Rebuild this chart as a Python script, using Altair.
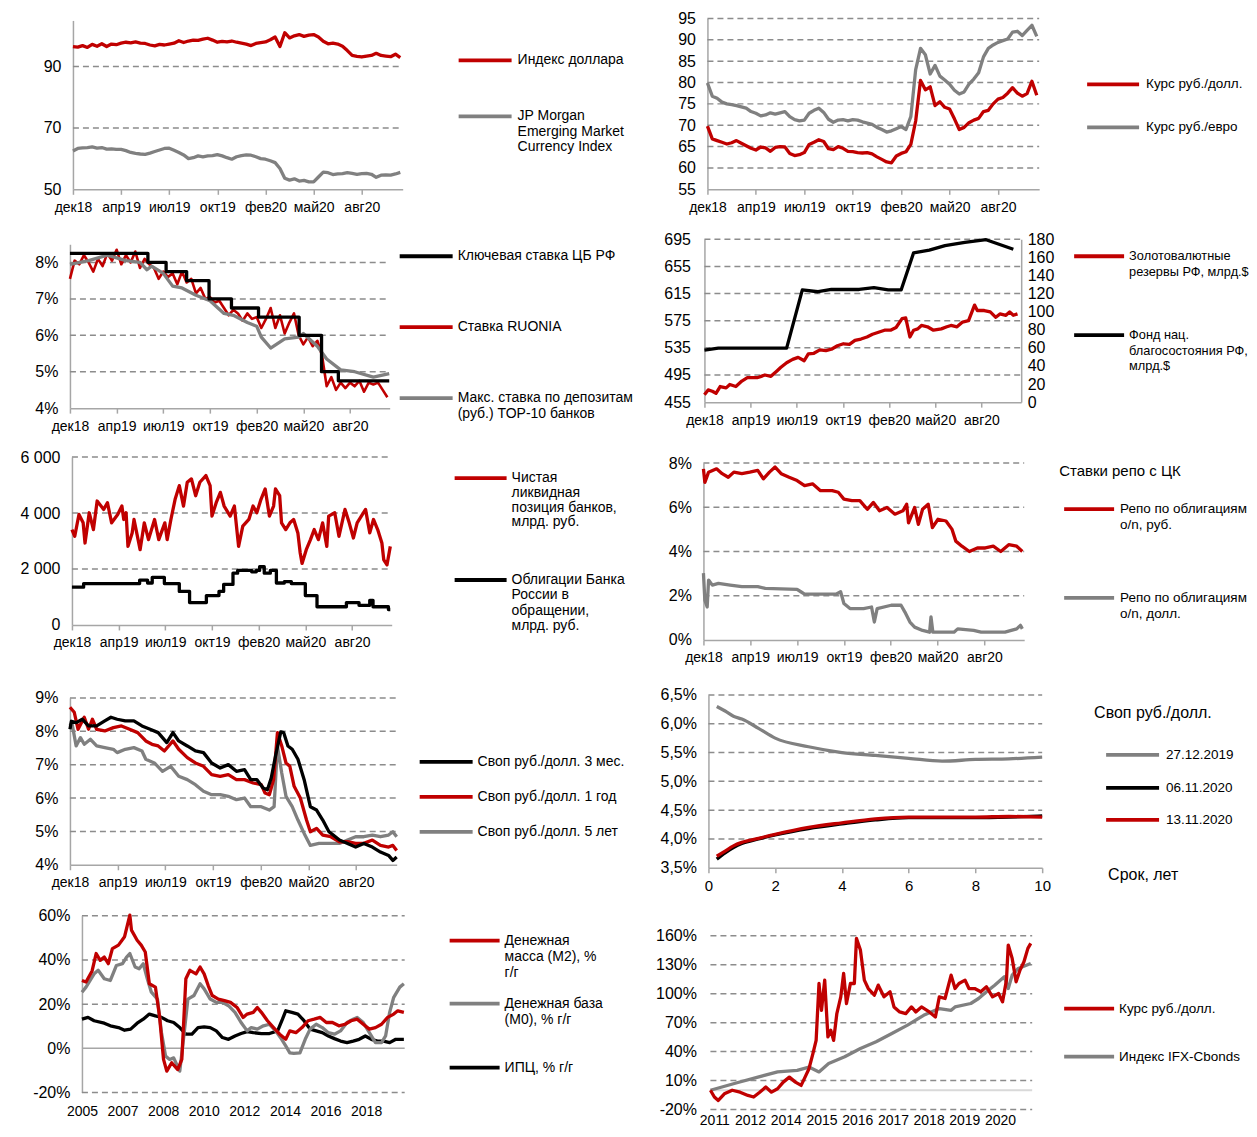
import altair as alt
import pandas as pd

FONT = "Liberation Sans"
RED = "#C00000"
GRAY = "#808080"
BLACK = "#000000"
GRIDC = "#8c8c8c"
AXISC = "#a6a6a6"
LW = 3.3
ONE = alt.Data(values=[{"k": 1}])

# ---------------- data ----------------
MONTHS = ["дек18", "апр19", "июл19", "окт19", "фев20", "май20", "авг20"]
YEARS9 = ["2005", "2007", "2008", "2010", "2012", "2014", "2016", "2018"]
YEARS10 = ["2011", "2012", "2014", "2015", "2016", "2017", "2018", "2019", "2020"]

T69 = [round(i * 0.1, 1) for i in range(69)]

dxy_vals = [96.5, 96.3, 96.8, 96.2, 97.2, 96.6, 97.4, 96.5, 97.3, 97.1,
            97.6, 97.9, 97.7, 98.0, 97.6, 97.5, 97.0, 96.7, 97.2, 97.0,
            97.3, 97.6, 98.4, 97.8, 98.3, 98.6, 98.5, 98.9, 99.2, 98.6,
            97.9, 98.2, 98.0, 98.3, 97.9, 97.6, 97.3, 96.8, 97.5, 97.8,
            98.0, 98.7, 99.6, 96.5, 101.0, 99.3, 100.0, 100.4, 99.8, 100.2,
            100.4, 99.6, 98.2, 97.4, 97.6, 97.3, 96.6, 95.2, 93.6, 93.3,
            93.1, 93.4, 93.6, 94.3, 93.6, 93.4, 93.2, 94.0, 92.9]
jpm_vals = [62.5, 63.3, 63.5, 63.6, 63.8, 63.4, 63.6, 63.1, 63.2, 63.0,
            63.0, 62.6, 62.0, 61.7, 61.5, 61.4, 61.8, 62.3, 62.8, 63.3,
            63.4, 62.7, 62.0, 61.2, 60.0, 60.3, 60.9, 60.6, 60.9, 61.0,
            61.3, 60.9, 60.3, 59.8, 60.6, 61.0, 61.2, 61.1, 60.6, 60.0,
            59.8, 59.3, 58.7, 56.8, 53.6, 53.0, 53.4, 52.7, 52.9, 52.4,
            52.4, 54.0, 55.6, 55.4, 54.8, 55.0, 55.1, 55.4, 55.2, 54.9,
            55.1, 55.2, 54.9, 53.9, 54.6, 54.7, 54.6, 55.0, 55.5]

usd_vals = [69.8, 66.8, 66.4, 66.0, 65.6, 65.9, 66.4, 65.8, 65.2, 64.6,
            64.2, 64.9, 64.7, 63.9, 64.8, 65.0, 64.9, 63.4, 62.9, 63.1,
            63.6, 65.5, 66.0, 66.6, 66.2, 64.5, 64.3, 65.0, 64.6, 63.9,
            63.8, 63.6, 63.5, 63.6, 63.3, 62.6, 62.0, 61.4, 61.2, 62.8,
            63.4, 63.8, 65.5, 71.0, 80.5, 78.3, 79.0, 74.6, 75.5, 74.2,
            73.8, 71.5, 69.0, 69.5, 70.6, 71.2, 71.6, 73.2, 73.5, 75.0,
            76.1, 76.5, 77.5, 78.8, 77.5, 76.8, 77.4, 80.3, 77.0]
eur_vals = [79.9, 76.8, 76.3, 75.4, 75.0, 74.8, 74.6, 74.3, 74.0, 73.2,
            72.8, 72.2, 72.4, 72.9, 72.6, 72.9, 73.2, 72.0, 71.3, 71.0,
            71.2, 72.8, 73.5, 74.0, 73.0, 71.4, 70.7, 71.2, 71.3, 71.0,
            71.3, 71.2, 70.8, 70.5, 70.2, 69.5, 69.0, 68.4, 68.7, 69.2,
            69.7, 69.0, 72.0, 83.0, 88.0, 86.5, 82.0, 84.0, 81.5, 80.6,
            79.6, 78.2, 77.3, 77.8, 79.6, 80.8, 82.3, 86.0, 88.0, 88.8,
            89.4, 89.8, 90.2, 91.8, 92.0, 91.0, 92.2, 93.4, 90.8]

ruonia_vals = [7.55, 8.05, 7.95, 8.2, 8.0, 7.75, 8.1, 7.9, 8.25, 8.05,
               8.35, 7.95, 8.2, 8.0, 8.3, 7.85, 8.1, 7.95, 7.85, 7.55,
               7.75, 7.6, 7.7, 7.4, 7.75, 7.45, 7.55, 7.15, 7.3, 7.0,
               7.05, 6.9, 6.95, 6.75, 6.55, 6.7, 6.6, 6.4, 6.6, 6.45,
               6.5, 6.2, 6.45, 6.75, 6.2, 6.55, 6.05, 6.35, 6.6, 6.0,
               5.75, 5.95, 5.7, 5.85, 5.45, 4.6, 4.85, 4.5, 4.7, 4.55,
               4.7, 4.6, 4.75, 4.45, 4.7, 4.65, 4.7, 4.5, 4.3]
key_x = [0, 1.67, 2.06, 2.50, 2.98, 3.46, 4.04, 4.91, 5.39, 5.75, 6.84]
key_vals = [8.25, 8.0, 7.75, 7.5, 7.0, 6.75, 6.5, 6.0, 5.0, 4.75, 4.75]
dep_x = [0, 0.4, 0.8, 1.2, 1.5, 1.65, 1.75, 2.0, 2.2, 2.4, 2.7, 3.0, 3.3, 3.5,
         3.8, 4.0, 4.1, 4.3, 4.6, 4.9, 5.0, 5.3, 5.5, 5.8, 6.1, 6.5, 6.84]
dep_vals = [7.95, 8.05, 8.2, 8.05, 8.0, 7.8, 7.9, 7.7, 7.35, 7.3, 7.1, 6.95, 6.6, 6.55,
            6.35, 6.25, 5.95, 5.65, 5.9, 5.95, 6.05, 5.7, 5.35, 5.05, 5.0, 4.85, 4.95]

res_x = [0.00, 0.08, 0.17, 0.25, 0.34, 0.47, 0.55, 0.68, 0.81, 0.93,
         1.14, 1.23, 1.31, 1.44, 1.57, 1.65, 1.78, 1.91, 2.03, 2.16,
         2.25, 2.37, 2.50, 2.63, 2.75, 2.88, 3.01, 3.14, 3.26, 3.39,
         3.52, 3.64, 3.77, 3.90, 4.03, 4.15, 4.28, 4.36, 4.45, 4.53,
         4.62, 4.70, 4.83, 4.96, 5.13, 5.25, 5.34, 5.47, 5.59, 5.72,
         5.85, 5.91, 6.06, 6.19, 6.31, 6.40, 6.53, 6.61, 6.69, 6.78]
res_vals = [466, 473, 471, 468, 478, 476, 481, 478, 486, 491,
            491, 493, 495, 493, 501, 506, 513, 518, 521, 516,
            526, 527, 532, 531, 533, 538, 541, 540, 546, 548,
            551, 555, 558, 561, 561, 565, 578, 579, 551, 561,
            563, 568, 566, 561, 563, 566, 568, 566, 573, 575,
            598, 590, 590, 588, 580, 585, 583, 588, 583, 585]
nwf_x = [0.00, 0.30, 1.78, 2.12, 2.46, 2.75, 3.35, 3.67, 3.98, 4.26, 4.53, 4.87, 5.21, 5.64, 6.10, 6.69]
nwf_vals = [57.5, 59.7, 59.7, 124.0, 122.0, 124.5, 124.5, 126.5, 124.0, 124.0, 165.0, 168.0, 173.0, 176.5, 179.5, 169.0]

liq_x = [0.00, 0.06, 0.15, 0.24, 0.28, 0.37, 0.46, 0.54, 0.68, 0.76,
         0.85, 0.98, 1.07, 1.11, 1.16, 1.20, 1.29, 1.33, 1.46, 1.55,
         1.64, 1.77, 1.86, 1.99, 2.04, 2.12, 2.21, 2.30, 2.39, 2.47,
         2.56, 2.65, 2.74, 2.87, 2.96, 3.00, 3.09, 3.18, 3.26, 3.39,
         3.48, 3.57, 3.66, 3.79, 3.88, 3.96, 4.05, 4.14, 4.23, 4.32,
         4.36, 4.45, 4.49, 4.58, 4.67, 4.75, 4.84, 4.89, 4.93, 5.02,
         5.11, 5.19, 5.28, 5.37, 5.46, 5.50, 5.63, 5.72, 5.85, 5.94,
         6.03, 6.11, 6.20, 6.29, 6.38, 6.46, 6.55, 6.64, 6.68, 6.75, 6.82]
liq_vals = [3410, 3170, 3950, 3650, 2930, 4010, 3410, 4430, 4130, 4370,
            3650, 3950, 4250, 3770, 4010, 2810, 3290, 3770, 2690, 3650,
            3050, 3770, 3050, 3650, 3050, 3770, 4490, 4980, 4250, 5100,
            5220, 4620, 5100, 5340, 4980, 3890, 4370, 4740, 4250, 3890,
            4250, 2810, 3530, 3770, 4250, 4010, 4490, 4860, 3890, 4250,
            4860, 4620, 3650, 3410, 3650, 3770, 3290, 2570, 2200, 2690,
            3050, 3410, 3050, 3650, 2810, 3890, 4010, 3170, 4130, 3650,
            3110, 3650, 3890, 4130, 3290, 3770, 3410, 2930, 2330, 2150, 2810]
obr_x = [0, 0.25, 1.45, 1.62, 1.72, 1.98, 2.30, 2.52, 2.88, 3.15,
         3.25, 3.45, 3.55, 3.85, 3.95, 4.02, 4.12, 4.25, 4.38, 4.55,
         4.70, 5.00, 5.25, 5.88, 6.15, 6.38, 6.45, 6.78, 6.82]
obr_vals = [1350, 1480, 1600, 1500, 1700, 1480, 1200, 800, 1050, 1200,
            1450, 1850, 1950, 1900, 1950, 2080, 1850, 1950, 1500, 1550,
            1480, 1050, 650, 800, 700, 880, 650, 550, 550]

rr_x = [0.00, 0.03, 0.11, 0.28, 0.40, 0.53, 0.65, 0.82, 0.99, 1.16,
        1.28, 1.41, 1.53, 1.66, 1.83, 2.00, 2.16, 2.33, 2.50, 2.75,
        2.88, 3.00, 3.17, 3.34, 3.50, 3.63, 3.76, 3.92, 4.09, 4.26,
        4.34, 4.38, 4.51, 4.59, 4.68, 4.80, 4.89, 5.01, 5.18, 5.31,
        5.39, 5.52, 5.68, 5.85, 6.02, 6.19, 6.35, 6.52, 6.69, 6.81]
rr_vals = [7.74, 7.13, 7.59, 7.74, 7.52, 7.36, 7.59, 7.52, 7.59, 7.67,
           7.29, 7.59, 7.82, 7.52, 7.36, 7.21, 6.98, 7.06, 6.75, 6.75,
           6.68, 6.37, 6.30, 6.30, 5.91, 6.22, 5.84, 5.99, 5.69, 5.84,
           6.14, 5.30, 5.99, 5.23, 5.91, 6.14, 5.08, 5.46, 5.38, 5.00,
           4.47, 4.24, 4.00, 4.16, 4.16, 4.24, 4.00, 4.31, 4.24, 4.00]
ru_x = [0.00, 0.03, 0.08, 0.11, 0.19, 0.32, 0.57, 0.82, 1.16, 1.32,
        2.00, 2.08, 2.16, 2.83, 2.93, 3.00, 3.13, 3.42, 3.59, 3.65,
        3.71, 4.01, 4.22, 4.30, 4.41, 4.51, 4.68, 4.83, 4.86, 4.90,
        5.35, 5.43, 5.77, 5.93, 6.44, 6.69, 6.77, 6.81]
ru_vals = [3.02, 1.80, 1.49, 2.71, 2.48, 2.56, 2.48, 2.41, 2.41, 2.33,
           2.29, 2.18, 2.07, 2.07, 2.18, 1.65, 1.42, 1.42, 1.49, 0.81,
           1.42, 1.57, 1.57, 1.27, 0.81, 0.58, 0.43, 0.35, 1.04, 0.35,
           0.35, 0.50, 0.43, 0.35, 0.35, 0.50, 0.66, 0.50]

sw3_x = [0.00, 0.03, 0.13, 0.26, 0.39, 0.56, 0.73, 0.86, 0.99, 1.16,
         1.34, 1.51, 1.68, 1.85, 2.03, 2.16, 2.28, 2.46, 2.63, 2.80,
         2.97, 3.15, 3.32, 3.49, 3.66, 3.79, 3.92, 4.05, 4.14, 4.22,
         4.31, 4.42, 4.48, 4.57, 4.66, 4.78, 4.91, 5.04, 5.17, 5.30,
         5.43, 5.52, 5.65, 5.82, 5.99, 6.16, 6.34, 6.51, 6.68, 6.77, 6.85]
sw3_vals = [8.06, 8.30, 8.26, 8.36, 8.16, 8.16, 8.31, 8.42, 8.36, 8.31,
            8.31, 8.16, 8.06, 7.96, 7.66, 7.96, 7.71, 7.56, 7.41, 7.36,
            7.05, 6.90, 7.00, 6.80, 6.85, 6.55, 6.55, 6.30, 6.25, 6.60,
            7.26, 7.98, 7.96, 7.56, 7.46, 7.16, 6.55, 5.74, 5.64, 5.34,
            4.99, 4.89, 4.74, 4.64, 4.53, 4.64, 4.53, 4.38, 4.28, 4.13, 4.23]
sw1_x = [0.00, 0.09, 0.17, 0.30, 0.39, 0.47, 0.56, 0.73, 0.91, 1.08,
         1.25, 1.42, 1.59, 1.72, 1.85, 1.98, 2.16, 2.28, 2.46, 2.63,
         2.80, 2.97, 3.15, 3.32, 3.49, 3.66, 3.84, 4.01, 4.09, 4.18,
         4.27, 4.35, 4.44, 4.53, 4.61, 4.70, 4.83, 4.96, 5.04, 5.17,
         5.30, 5.47, 5.65, 5.82, 5.99, 6.16, 6.34, 6.51, 6.68, 6.77, 6.85]
sw1_vals = [8.72, 8.57, 8.06, 8.42, 8.06, 8.36, 8.06, 8.01, 8.11, 8.16,
            8.06, 7.96, 7.71, 7.61, 7.56, 7.41, 7.71, 7.46, 7.21, 7.05,
            6.95, 6.70, 6.65, 6.70, 6.55, 6.55, 6.45, 6.40, 6.15, 6.10,
            6.55, 7.96, 7.56, 7.05, 6.95, 6.35, 6.00, 5.34, 4.99, 5.09,
            4.89, 4.84, 4.69, 4.69, 4.64, 4.64, 4.74, 4.58, 4.53, 4.58, 4.43]
sw5_x = [0.00, 0.04, 0.13, 0.22, 0.30, 0.43, 0.56, 0.73, 0.91, 0.99,
         1.16, 1.34, 1.51, 1.59, 1.77, 1.94, 2.11, 2.28, 2.46, 2.63,
         2.80, 2.97, 3.15, 3.32, 3.49, 3.66, 3.79, 4.01, 4.18, 4.28,
         4.35, 4.44, 4.53, 4.66, 4.78, 4.91, 5.04, 5.22, 5.39, 5.65,
         5.82, 5.99, 6.16, 6.34, 6.51, 6.68, 6.77, 6.85]
sw5_vals = [8.16, 8.26, 7.56, 7.81, 7.61, 7.76, 7.56, 7.51, 7.46, 7.36,
            7.46, 7.51, 7.41, 7.16, 7.05, 6.80, 6.95, 6.65, 6.55, 6.40,
            6.20, 6.10, 6.10, 6.05, 5.95, 6.00, 5.74, 5.74, 5.64, 5.74,
            7.56, 6.75, 6.05, 5.74, 5.34, 4.94, 4.58, 4.64, 4.64, 4.64,
            4.74, 4.84, 4.84, 4.89, 4.84, 4.89, 4.99, 4.84]

term = [0.25, 0.5, 0.75, 1, 1.5, 2, 3, 4, 5, 6, 7, 8, 9, 10]
curve_2019 = [6.30, 6.22, 6.13, 6.08, 5.92, 5.75, 5.60, 5.50, 5.45, 5.40, 5.35, 5.38, 5.39, 5.42]
curve_0611 = [3.65, 3.76, 3.85, 3.92, 4.00, 4.07, 4.18, 4.26, 4.33, 4.37, 4.37, 4.37, 4.38, 4.40]
curve_1311 = [3.70, 3.79, 3.88, 3.94, 4.01, 4.08, 4.20, 4.28, 4.35, 4.38, 4.38, 4.38, 4.39, 4.38]

m2_x = [0.00, 0.10, 0.25, 0.35, 0.45, 0.55, 0.65, 0.75, 0.90, 1.05,
        1.18, 1.22, 1.36, 1.46, 1.56, 1.66, 1.81, 1.91, 2.01, 2.09,
        2.21, 2.36, 2.46, 2.56, 2.66, 2.81, 2.91, 3.01, 3.11, 3.21,
        3.36, 3.51, 3.66, 3.82, 3.97, 4.07, 4.22, 4.32, 4.42, 4.57,
        4.72, 4.87, 5.02, 5.12, 5.27, 5.42, 5.57, 5.72, 5.87, 6.02,
        6.17, 6.33, 6.48, 6.63, 6.78, 6.93, 7.08, 7.23, 7.38, 7.53,
        7.68, 7.78, 7.93]
m2_vals = [30.7, 30.0, 35.0, 42.9, 39.8, 41.3, 38.3, 45.1, 46.7, 50.5,
           60.3, 53.5, 48.9, 46.7, 43.6, 29.2, 27.7, 14.7, -5.0, -10.3,
           -6.5, -9.6, -5.0, 31.5, 35.3, 33.7, 36.8, 33.7, 28.4, 23.9,
           22.3, 21.6, 20.8, 18.5, 14.0, 15.5, 16.3, 18.5, 16.3, 12.5,
           9.4, 6.4, 4.1, 7.9, 7.1, 9.4, 12.5, 13.2, 14.0, 11.7,
           11.7, 10.2, 10.9, 12.5, 13.2, 10.9, 8.7, 9.4, 10.9, 14.0,
           15.5, 17.0, 16.3]
m0_x = [0.00, 0.10, 0.30, 0.40, 0.55, 0.70, 0.85, 1.00, 1.10, 1.18,
        1.31, 1.41, 1.51, 1.61, 1.71, 1.86, 1.96, 2.06, 2.16, 2.26,
        2.41, 2.51, 2.61, 2.76, 2.91, 3.01, 3.16, 3.31, 3.46, 3.61,
        3.77, 3.92, 4.07, 4.17, 4.32, 4.47, 4.62, 4.77, 4.92, 5.02,
        5.12, 5.22, 5.37, 5.50, 5.62, 5.77, 5.92, 6.07, 6.22, 6.37,
        6.53, 6.68, 6.78, 6.93, 7.08, 7.23, 7.38, 7.48, 7.58, 7.68,
        7.83, 7.93]
m0_vals = [25.4, 27.7, 33.7, 35.3, 31.5, 30.7, 37.5, 38.3, 41.3, 42.9,
           36.8, 36.0, 38.3, 31.5, 25.4, 22.3, 7.1, -3.5, -5.0, -4.3,
           -10.3, 5.6, 22.3, 23.9, 29.2, 26.9, 22.3, 20.8, 20.8, 19.3,
           16.3, 11.7, 7.9, 9.4, 8.7, 10.2, 10.9, 7.9, 4.1, 1.1,
           -2.0, -2.3, -2.0, 4.1, 8.7, 10.9, 9.4, 7.1, 6.4, 7.9,
           11.7, 13.2, 14.0, 11.7, 7.1, 2.6, 2.6, 5.6, 16.3, 23.1,
           27.7, 29.2]
cpi_x = [0.00, 0.15, 0.30, 0.55, 0.70, 0.90, 1.05, 1.20, 1.36, 1.51,
         1.66, 1.81, 1.96, 2.11, 2.26, 2.41, 2.56, 2.71, 2.86, 3.01,
         3.16, 3.31, 3.46, 3.61, 3.77, 3.92, 4.07, 4.22, 4.42, 4.62,
         4.82, 4.94, 5.02, 5.17, 5.32, 5.47, 5.62, 5.77, 5.92, 6.07,
         6.22, 6.37, 6.53, 6.68, 6.83, 6.98, 7.13, 7.28, 7.43, 7.58,
         7.73, 7.93]
cpi_vals = [13.2, 14.0, 12.5, 11.4, 10.2, 9.4, 8.2, 8.7, 11.4, 13.2,
            15.5, 14.7, 14.0, 12.5, 11.7, 9.4, 6.4, 6.4, 9.4, 9.7,
            9.4, 7.9, 4.9, 4.1, 5.6, 6.7, 7.6, 7.1, 6.7, 6.7,
            7.9, 13.2, 17.0, 16.3, 15.5, 12.5, 8.7, 7.9, 7.1, 5.6,
            4.4, 3.3, 2.6, 3.3, 4.1, 5.6, 4.1, 3.3, 3.3, 2.6,
            4.1, 4.1]

cum_x = [-0.11, 0.00, 0.11, 0.28, 0.50, 0.72, 0.94, 1.10, 1.27, 1.44,
         1.60, 1.77, 1.93, 2.10, 2.27, 2.43, 2.54, 2.65, 2.76, 2.85,
         2.93, 3.00, 3.09, 3.18, 3.26, 3.34, 3.43, 3.54, 3.62, 3.70,
         3.81, 3.92, 3.98, 4.09, 4.20, 4.31, 4.48, 4.59, 4.75, 4.92,
         5.03, 5.19, 5.36, 5.52, 5.64, 5.80, 6.02, 6.19, 6.30, 6.46,
         6.63, 6.74, 6.85, 7.02, 7.13, 7.29, 7.46, 7.62, 7.79, 7.96,
         8.07, 8.18, 8.23, 8.34, 8.45, 8.56, 8.67, 8.78, 8.86]
cum_usd = [0, -7.0, -10.6, -3.7, 0, -2.0, -5.4, -7.0, -2.0, 3.3,
           -2.0, 1.5, 8.4, 13.6, 8.4, 5.0, 13.6, 22.3, 37.9, 51.7,
           110.5, 82.8, 114.0, 55.2, 62.1, 51.7, 79.4, 96.7, 120.9, 89.8,
           110.5, 110.5, 157.2, 145.1, 114.0, 105.3, 98.4, 108.8, 96.7, 101.9,
           86.3, 81.1, 79.4, 86.3, 81.1, 86.3, 81.1, 75.9, 96.7, 95.0,
           119.2, 105.3, 110.5, 114.0, 105.3, 105.3, 101.9, 107.1, 96.7, 100.2,
           91.5, 114.0, 150.3, 136.5, 112.3, 124.4, 133.0, 146.9, 152.0]
ifx_x = [-0.11, 0.66, 1.22, 1.77, 2.32, 2.65, 2.93, 3.20, 3.65, 4.09,
         4.53, 4.97, 5.41, 5.86, 6.30, 6.63, 6.74, 7.18, 7.40, 7.62,
         7.85, 8.12, 8.23, 8.34, 8.51, 8.86]
ifx_vals = [0, 8.0, 13.6, 19.0, 20.6, 24.0, 19.0, 27.6, 34.6, 43.3,
            50.2, 58.8, 67.4, 77.6, 84.6, 82.8, 86.3, 89.8, 95.0, 101.9,
            108.8, 117.4, 105.3, 119.2, 126.1, 131.3]

# ---------------- layout helpers ----------------
COLX = [8, 640]
COLW = [632, 609]
ROWY = [8, 228, 438, 672, 898]
ROWH = [220, 210, 234, 226, 231]


def series(xs, ys, color, X, Y, width=LW, interp="linear"):
    df = pd.DataFrame({"x": xs, "y": ys})
    return alt.Chart(df).mark_line(color=color, strokeWidth=width, interpolate=interp,
                                   strokeJoin="round").encode(x=X, y=Y)


class Panel:
    def __init__(self, col, row, x0, x1, y0, y1):
        self.ox, self.oy = COLX[col], ROWY[row]
        self.w, self.h = COLW[col], ROWH[row]
        self.rx0, self.rx1 = x0 - self.ox, x1 - self.ox
        self.ry0, self.ry1 = y0 - self.oy, y1 - self.oy
        self.layers = []

    def xenc(self, dom, values, labels=None, size=14, pad=6, ticks=True, domain=True):
        kw = dict(values=values, grid=False, domain=domain, domainColor=AXISC, domainWidth=1.5,
                  ticks=ticks, tickColor=AXISC, tickWidth=1.5, tickSize=5 if ticks else 0,
                  labelFont=FONT, labelFontSize=size, labelColor="#000000", labelPadding=pad,
                  labelOverlap=False, labelFlush=False, labelBound=False,
                  offset=self.ry1 - self.h, title=None)
        if labels is not None:
            kw["labelExpr"] = "[" + ",".join("'%s'" % s for s in labels) + "][datum.value]"
        return alt.X("x:Q", scale=alt.Scale(domain=dom, range=[self.rx0, self.rx1], nice=False, zero=False),
                     axis=alt.Axis(**kw))

    def yenc(self, dom, values, expr=None, size=16, pad=12, orient="left", domain=True):
        off = -self.rx0 if orient == "left" else self.rx1 - self.w
        kw = dict(values=values, orient=orient, grid=False, domain=domain, domainColor=AXISC,
                  domainWidth=1.5, ticks=False, labelFont=FONT, labelFontSize=size,
                  labelColor="#000000", labelPadding=pad, labelOverlap=False, labelFlush=False,
                  labelBound=False, offset=off, title=None)
        if expr:
            kw["labelExpr"] = expr
        return alt.Y("y:Q", scale=alt.Scale(domain=dom, range=[self.ry1, self.ry0], nice=False, zero=False),
                     axis=alt.Axis(**kw))

    def grid(self, values, Y):
        df = pd.DataFrame({"y": values})
        return alt.Chart(df).mark_rule(color=GRIDC, strokeWidth=1.5, strokeDash=[6, 4]).encode(
            y=Y, x=alt.value(self.rx0), x2=alt.value(self.rx1))

    def text(self, s, x, y, size=14):
        return alt.Chart(ONE).mark_text(align="left", baseline="middle", font=FONT, fontSize=size,
                                        color="#000000").encode(
            x=alt.value(x - self.ox), y=alt.value(y - self.oy), text=alt.value(s))

    def legend(self, color, x1, x2, y, lines, tx, step=15.5, size=14):
        self.layers.append(alt.Chart(ONE).mark_rule(color=color, strokeWidth=3.8).encode(
            x=alt.value(x1 - self.ox), x2=alt.value(x2 - self.ox), y=alt.value(y - self.oy)))
        for i, s in enumerate(lines):
            self.layers.append(self.text(s, tx, y + i * step, size))

    def add(self, *ls):
        self.layers.extend(ls)

    def chart(self):
        return alt.layer(*self.layers).properties(width=self.w, height=self.h)


PCT = "datum.value + '%'"

# Panel 1
p = Panel(0, 0, 73, 403, 20, 189)
X = p.xenc([0, 6.85], list(range(7)), MONTHS)
Y = p.yenc([50, 105], [50, 70, 90])
p.add(p.grid([70, 90], Y), series(T69, jpm_vals, GRAY, X, Y), series(T69, dxy_vals, RED, X, Y))
p.legend(RED, 459, 512, 60, ["Индекс доллара"], 518)
p.legend(GRAY, 459, 512, 116, ["JP Morgan", "Emerging Market", "Currency Index"], 518)
c1 = p.chart()

# Panel 2
p = Panel(1, 0, 708, 1040, 18, 189)
X = p.xenc([0, 6.85], list(range(7)), MONTHS)
Y = p.yenc([55, 95], list(range(55, 96, 5)))
p.add(p.grid(list(range(60, 96, 5)), Y), series(T69, eur_vals, GRAY, X, Y), series(T69, usd_vals, RED, X, Y))
p.legend(RED, 1088, 1140, 84, ["Курс руб./долл."], 1147, size=13.5)
p.legend(GRAY, 1088, 1140, 127, ["Курс руб./евро"], 1147, size=13.5)
c2 = p.chart()

# Panel 3
p = Panel(0, 1, 70, 390, 244, 408)
X = p.xenc([0, 6.85], list(range(7)), MONTHS)
Y = p.yenc([4, 8.5], [4, 5, 6, 7, 8], PCT)
p.add(p.grid([5, 6, 7, 8], Y),
      series(T69, ruonia_vals, RED, X, Y, 2.6),
      series(dep_x, dep_vals, GRAY, X, Y),
      series(key_x, key_vals, BLACK, X, Y, LW, "step-after"))
p.legend(BLACK, 400, 453, 256, ["Ключевая ставка ЦБ РФ"], 458)
p.legend(RED, 400, 453, 327, ["Ставка RUONIA"], 458)
p.legend(GRAY, 400, 453, 398, ["Макс. ставка по депозитам", "(руб.) TOP-10 банков"], 458, step=16)
c3 = p.chart()

# Panel 4 (two y axes)
p = Panel(1, 1, 705, 1022, 239, 402)
X = p.xenc([0, 6.86], list(range(7)), MONTHS)
YL = p.yenc([455, 695], list(range(455, 696, 40)), pad=14)
YR = p.yenc([0, 180], list(range(0, 181, 20)), orient="right", pad=6)
left = alt.layer(p.grid(list(range(495, 696, 40)), YL), series(res_x, res_vals, RED, X, YL))
right = alt.layer(series(nwf_x, nwf_vals, BLACK, X, YR))
p.legend(RED, 1075, 1125, 256, ["Золотовалютные", "резервы РФ, млрд.$"], 1130, size=12.8)
p.legend(BLACK, 1075, 1125, 335, ["Фонд нац.", "благосостояния РФ,", "млрд.$"], 1130, size=12.8)
c4 = alt.layer(left, right, *p.layers).resolve_scale(y="independent").properties(width=p.w, height=p.h)

# Panel 5
p = Panel(0, 2, 72, 392, 457, 625)
X = p.xenc([0, 6.85], list(range(7)), MONTHS)
Y = p.yenc([0, 6000], [0, 2000, 4000, 6000], "replace(format(datum.value, ','), ',', ' ')")
p.add(p.grid([2000, 4000, 6000], Y),
      series(liq_x, liq_vals, RED, X, Y),
      series(obr_x, obr_vals, BLACK, X, Y, LW, "step-after"))
p.legend(RED, 455, 507, 478, ["Чистая", "ликвидная", "позиция банков,", "млрд. руб."], 512, step=14.8)
p.legend(BLACK, 455, 507, 580, ["Облигации Банка", "России в", "обращении,", "млрд. руб."], 512, step=15.3)
c5 = p.chart()

# Panel 6
p = Panel(1, 2, 704, 1025, 463, 640)
X = p.xenc([0, 6.85], list(range(7)), MONTHS)
Y = p.yenc([0, 8], [0, 2, 4, 6, 8], PCT)
p.add(p.grid([2, 4, 6, 8], Y),
      series(ru_x, ru_vals, GRAY, X, Y),
      series(rr_x, rr_vals, RED, X, Y))
p.add(p.text("Ставки  репо с ЦК", 1060, 471, 15))
p.legend(RED, 1065, 1115, 509, ["Репо по облигациям", "o/n, руб."], 1121, size=13.5)
p.legend(GRAY, 1065, 1115, 598, ["Репо по облигациям", "o/n, долл."], 1121, step=16, size=13.5)
c6 = p.chart()

# Panel 7
p = Panel(0, 3, 70, 397, 698, 865)
X = p.xenc([0, 6.85], list(range(7)), MONTHS)
Y = p.yenc([4, 9], [4, 5, 6, 7, 8, 9], PCT)
p.add(p.grid([5, 6, 7, 8, 9], Y),
      series(sw5_x, sw5_vals, GRAY, X, Y),
      series(sw1_x, sw1_vals, RED, X, Y),
      series(sw3_x, sw3_vals, BLACK, X, Y))
p.legend(BLACK, 420, 473, 762, ["Своп руб./долл. 3 мес."], 478)
p.legend(RED, 420, 473, 797, ["Своп руб./долл. 1 год"], 478)
p.legend(GRAY, 420, 473, 832, ["Своп руб./долл. 5 лет"], 478)
c7 = p.chart()

# Panel 8
p = Panel(1, 3, 709, 1043, 695, 868)
X = p.xenc([0, 10], [0, 2, 4, 6, 8, 10], None, size=15)
Y = p.yenc([3.5, 6.5], [3.5, 4.0, 4.5, 5.0, 5.5, 6.0, 6.5],
           "replace(format(datum.value, '.1f'), '.', ',') + '%'")
p.add(p.grid([4.0, 4.5, 5.0, 5.5, 6.0, 6.5], Y),
      series(term, curve_2019, GRAY, X, Y, LW, "monotone"),
      series(term, curve_0611, BLACK, X, Y, LW, "monotone"),
      series(term, curve_1311, RED, X, Y, LW, "monotone"))
p.add(p.text("Своп руб./долл.", 1095, 713, 16))
p.legend(GRAY, 1107, 1160, 755, ["27.12.2019"], 1167, size=13.5)
p.legend(BLACK, 1107, 1160, 788, ["06.11.2020"], 1167, size=13.5)
p.legend(RED, 1107, 1160, 820, ["13.11.2020"], 1167, size=13.5)
p.add(p.text("Срок, лет", 1109, 875, 16))
c8 = p.chart()

# Panel 9
p = Panel(0, 4, 82, 405, 916, 1093)
X = p.xenc([0, 7.95], list(range(8)), YEARS9, pad=12, ticks=False, domain=False)
Y = p.yenc([-20, 60], [-20, 0, 20, 40, 60], PCT)
p.add(p.grid([-20, 20, 40, 60], Y),
      alt.Chart(pd.DataFrame({"x": [0, 7.95], "y": [0, 0]})).mark_line(color=AXISC, strokeWidth=1.5).encode(x=X, y=Y),
      series(cpi_x, cpi_vals, BLACK, X, Y),
      series(m0_x, m0_vals, GRAY, X, Y),
      series(m2_x, m2_vals, RED, X, Y))
p.legend(RED, 450, 500, 941, ["Денежная", "масса (М2), %", "г/г"], 505, step=16)
p.legend(GRAY, 450, 500, 1004, ["Денежная база", "(М0), % г/г"], 505, step=16)
p.legend(BLACK, 450, 500, 1068, ["ИПЦ, % г/г"], 505)
c9 = p.chart()

# Panel 10
p = Panel(1, 4, 711, 1033, 936, 1110)
X = p.xenc([-0.11, 8.9], list(range(9)), YEARS10, pad=4, ticks=False, domain=False)
Y = p.yenc([-20, 160], list(range(-20, 161, 30)), PCT, domain=False, pad=14)
p.add(p.grid(list(range(-20, 161, 30)), Y),
      alt.Chart(pd.DataFrame({"x": [-0.11, 8.9], "y": [0, 0]})).mark_line(color="#d9d9d9", strokeWidth=2).encode(x=X, y=Y),
      series(ifx_x, ifx_vals, GRAY, X, Y),
      series(cum_x, cum_usd, RED, X, Y))
p.legend(RED, 1065, 1115, 1009, ["Курс руб./долл."], 1120, size=13.5)
p.legend(GRAY, 1065, 1115, 1057, ["Индекс IFX-Cbonds"], 1120, size=13.5)
c10 = p.chart()

chart = alt.concat(c1, c2, c3, c4, c5, c6, c7, c8, c9, c10, columns=2,
                   spacing=0, bounds="flush", align="each").properties(padding=0)
chart = chart.configure(font=FONT).configure_view(stroke=None)
chart.save("out.html", embed_options={"renderer": "svg", "actions": False})
